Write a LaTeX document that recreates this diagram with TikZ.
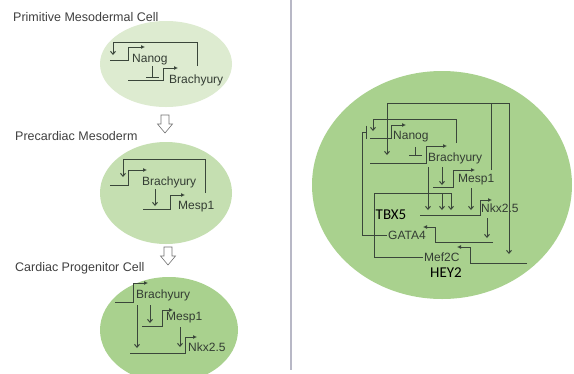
\documentclass[tikz,border=0pt]{standalone}
\usepackage{fontspec}
\setmainfont{Liberation Sans}
\newfontfamily\labelfont{Carlito}
\usepackage{tikz}
\usetikzlibrary{arrows.meta,shapes.geometric}
\definecolor{paleg}{HTML}{DDEBD0}
\definecolor{midg}{HTML}{C5DFB1}
\definecolor{leafg}{HTML}{A9D18E}
\definecolor{wire}{HTML}{3A463A}
\definecolor{genetext}{HTML}{333C33}
\definecolor{divider}{HTML}{B8B8C6}

\begin{document}
\begin{tikzpicture}[
  x=1pt, y=-1pt,
  cell/.style={ellipse, draw=none, inner sep=0pt},
  title/.style={anchor=west, text=black!75, font=\fontsize{12.5}{14}\selectfont, inner sep=0pt},
  gene/.style={anchor=west, text=genetext, font=\fontsize{12}{14}\selectfont, inner sep=1pt},
  tag/.style={text=black, font=\labelfont\fontsize{15}{17}\selectfont, inner sep=0pt},
  dna/.style={draw=wire, line width=0.95pt, -{Latex[length=4pt,width=4pt]}},
  act/.style={draw=wire, line width=0.95pt, -{Straight Barb[length=3pt,width=5pt]}},
  inh/.style={draw=wire, line width=0.95pt, -{Bar[width=13pt]}},
  hollow/.style={draw=black!55, fill=white, line width=0.6pt, line join=miter}
]
\clip (0,0) rectangle (574,373);
\fill[white] (0,0) rectangle (574,373);
% cells
\node[cell, fill=paleg, minimum width=132pt, minimum height=86pt] (cellA) at (166,64) {};
\node[cell, fill=midg, minimum width=132pt, minimum height=102pt] (cellB) at (166,193) {};
\node[cell, fill=leafg, minimum width=138pt, minimum height=106pt] (cellC) at (169,330) {};
\node[cell, fill=leafg, minimum width=260pt, minimum height=228pt] (cellD) at (442,185) {};
\draw[divider, line width=1.5pt] (291,0) -- (291,370);
% stage titles
\node[title] (primitive) at (13,17) {Primitive Mesodermal Cell};
\node[title] (precardiac) at (15,136) {Precardiac Mesoderm};
\node[title] (progenitor) at (15,268) {Cardiac Progenitor Cell};
\coordinate (stepA) at (165,115);
\coordinate (stepB) at (168,247);
\draw[hollow] (stepA) ++(-4,0) -- ++(8,0) -- ++(0,9) -- ++(3.5,0) -- ++(-7.5,9)
  -- ++(-7.5,-9) -- ++(3.5,0) -- cycle;
\draw[hollow] (stepB) ++(-4,0) -- ++(8,0) -- ++(0,9) -- ++(3.5,0) -- ++(-7.5,9)
  -- ++(-7.5,-9) -- ++(3.5,0) -- cycle;

% primitive mesodermal cell
\node[gene] (nanogA) at (131,60) {Nanog};
\node[gene] (brachA) at (168,80) {Brachyury};
\draw[dna] (110,60) -| (128,47) -- (145,47);
\draw[dna] (128,80) -| (163,68) -- (178,68);
\draw[act] (197,66) -- (197,42) -| (113,55);
\draw[inh] (152,66) -- (152,78);

% precardiac mesoderm
\node[gene] (brachB) at (141,182) {Brachyury};
\node[gene] (mespB) at (177,207) {Mesp1};
\draw[dna] (110,185) -| (128,170) -- (147,170);
\draw[dna] (143,209) -| (170,195) -- (185,195);
\draw[act] (205,193) -- (205,159) -| (123,177);
\draw[act] (155,189) -- (155,206);

% cardiac progenitor cell
\node[gene] (brachC) at (135,295) {Brachyury};
\node[gene] (mespC) at (165,318) {Mesp1};
\node[gene] (nkxC) at (187,347) {Nkx2.5};
\draw[dna] (115,302) -| (133,283) -- (148,283);
\draw[dna] (142,326) -| (162,310) -- (173,310);
\draw[dna] (130,353) -| (185,337) -- (197,337);
\draw[act] (150,305) -- (150,323);
\draw[act] (137,305) -- (137,348);
\draw[act] (180,327) -- (180,347);

% full network
\node[gene] (nanogD) at (392,137) {Nanog};
\node[gene] (brachD) at (427,158) {Brachyury};
\node[gene] (mespD) at (457,180) {Mesp1};
\node[gene] (nkxD) at (480,208) {Nkx2.5};
\node[gene] (gataD) at (387,235) {GATA4};
\node[gene] (mefD) at (423,257) {Mef2C};
\node[tag] (tbx) at (391,215) {TBX5};
\node[tag] (hey) at (446,273) {HEY2};
\draw[dna] (370,138) -| (391,125) -- (406,125);
\draw[dna] (370,163) -| (426,146) -- (447,146);
\draw[dna] (433,187) -| (453,170) -- (475,170);
\draw[dna] (420,215) -| (480,200) -- (492,200);
\draw[dna] (493,242) -| (435,227) -- (423,227);
\draw[dna] (527,263) -| (470,247) -- (457,247);
\draw[inh] (415,147) -- (415,156);
\draw[act] (456,143) -- (456,119) -| (373,131);
\draw[act] (491,170) -- (491,103) -| (387,155);
\draw[act] (491,103) -| (509,254);
\draw[act] (428,167) -- (428,210);
\draw[act] (442,167) -- (442,185);
\draw[act] (471,188) -- (471,210);
\draw[act] (mefD.west) -| (374,193) -| (451,210);
\draw[act] (442,193) -- (442,210);
\draw[act] (487,218) -- (487,238);
\draw[inh] (gataD.west) -| (362,132) -- (367,132);
\end{tikzpicture}
\end{document}
